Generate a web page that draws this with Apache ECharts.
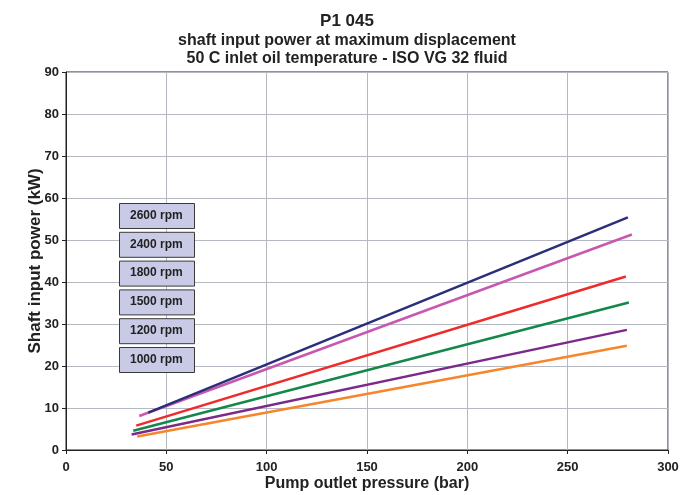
<!DOCTYPE html>
<html><head><meta charset="utf-8">
<script src="https://cdn.jsdelivr.net/npm/echarts@6/dist/echarts.min.js"></script>
<style>html,body{margin:0;padding:0;background:#fff}#c{width:694px;height:495px}</style>
</head><body><div id="c"></div>
<script>
const seriesNames = ['2600 rpm','2400 rpm','1800 rpm','1500 rpm','1200 rpm','1000 rpm'];
const seriesColors = ['#2b2f7a','#c857b0','#ee2a2a','#13884a','#7b2a8a','#f7862a'];
const pressureStart = [41, 36.5, 35, 33.5, 32.7, 35.5];
const pressureEnd = [280, 282, 279, 280.5, 279.5, 279.5];
const powerStart = [8.9, 8.1, 5.8, 4.6, 3.7, 3.2];
const powerEnd = [55.4, 51.3, 41.3, 35.1, 28.6, 24.8];
const xTicks = [0,50,100,150,200,250,300];
const yTicks = [0,10,20,30,40,50,60,70,80,90];

const FONT = '"Liberation Sans",Arial,sans-serif';
const chart = echarts.init(document.getElementById('c'));
const series = seriesNames.map((n,i)=>({
  name:n, type:'line', symbol:'none', silent:true, z:10-i,
  lineStyle:{color:seriesColors[i], width:2.5},
  data:[[pressureStart[i],powerStart[i]],[pressureEnd[i],powerEnd[i]]]
}));
const graphics = [];
seriesNames.forEach((n,i)=>{
  const top = 203 + i*28.8;
  graphics.push({type:'rect', z:100, left:119, top:top, shape:{width:75,height:25},
    style:{fill:'#c9cbe6', stroke:'#3a3a3a', lineWidth:1}});
  graphics.push({type:'text', z:101, left:130, top:top+6.5,
    style:{text:n, font:'bold 12px '+FONT, fill:'#222'}});
});
chart.setOption({
  animation:false,
  title:{
    text:'P1 045',
    subtext:'shaft input power at maximum displacement\n50 C inlet oil temperature - ISO VG 32 fluid',
    left:'center', top:8, itemGap:2,
    textStyle:{fontFamily:FONT, fontWeight:'bold', fontSize:17, color:'#222'},
    subtextStyle:{fontFamily:FONT, fontWeight:'bold', fontSize:16, color:'#222', lineHeight:18}
  },
  grid:{left:66, right:26, top:72, bottom:45, show:true, borderColor:'#222', borderWidth:1,
    containLabel:false, outerBoundsMode:'none'},
  xAxis:{type:'value', min:0, max:300, interval:50,
    name:'Pump outlet pressure (bar)', nameLocation:'middle', nameGap:26, nameMoveOverlap:false,
    nameTextStyle:{fontFamily:FONT, fontWeight:'bold', fontSize:16, color:'#222'},
    axisLine:{lineStyle:{color:'#222'}}, axisTick:{show:true, length:4, lineStyle:{color:'#222'}},
    axisLabel:{fontFamily:FONT, fontWeight:'bold', fontSize:13, color:'#222', margin:11},
    splitLine:{lineStyle:{color:'#b5b8c0', width:1}}},
  yAxis:{type:'value', min:0, max:90, interval:10,
    name:'Shaft input power (kW)', nameLocation:'middle', nameGap:22, nameMoveOverlap:false,
    nameTextStyle:{fontFamily:FONT, fontWeight:'bold', fontSize:17, color:'#222'},
    axisLine:{show:true, lineStyle:{color:'#222'}}, axisTick:{show:true, length:4, lineStyle:{color:'#222'}},
    axisLabel:{fontFamily:FONT, fontWeight:'bold', fontSize:13, color:'#222', margin:7},
    splitLine:{lineStyle:{color:'#b5b8c0', width:1}}},
  series:series,
  graphic:graphics
});
</script></body></html>
